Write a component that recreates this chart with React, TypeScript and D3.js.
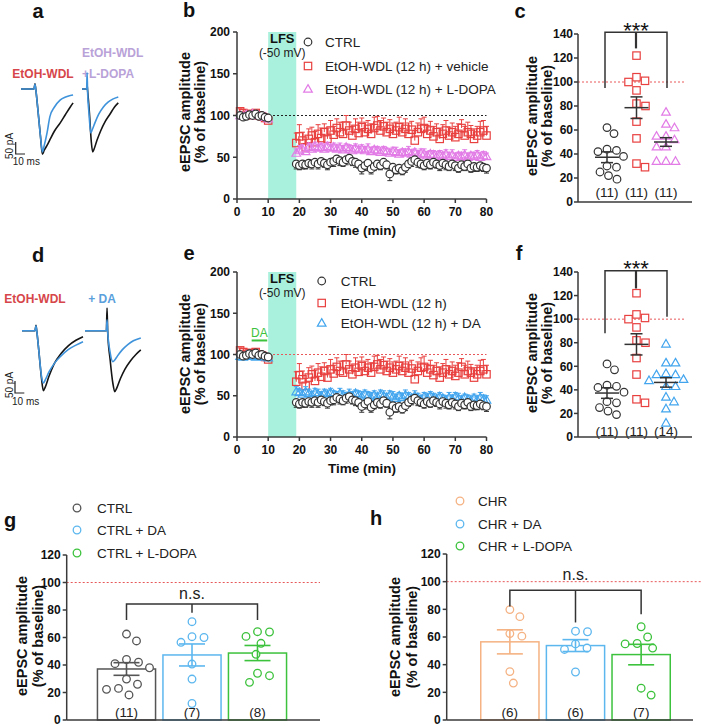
import React from 'react';
import * as d3 from 'd3';

const FONT = "'Liberation Sans', Arial, Helvetica, sans-serif";
const AXIS = '#3a3a3a';
const C_CTRL = '#333333';
const C_RED = '#e8403f';
const C_PINK = '#e27be6';
const C_BLUE = '#42a5ee';
const C_REF = '#e8585a';
const C_BAND = '#a9f1dc';
const C_ORANGE = '#f5b283';
const C_LBLUE = '#5db7ef';
const C_GREEN = '#3cc23c';
const C_TRACE_K = '#151515';
const C_TRACE_B = '#3f93db';

// ---------- time course data (b, e) ----------
const baseTimes = [1, 2, 3, 4, 5, 6, 7, 8, 9, 10];
const postTimes = d3.range(19, 81);
const yTicksTS = [0, 50, 100, 150, 200];
const xTicksTS = [0, 10, 20, 30, 40, 50, 60, 70, 80];
const lfsPeriod = [10, 19];
const daPeriod = [4.7, 9.7];

const ctrlBase = [100, 98, 99, 101, 100, 102, 99, 100, 98, 97];
const ctrlBaseErr = [2, 2, 3, 2, 2, 3, 2, 2, 3, 2];
const ctrlPost = [
  42, 40, 42, 41, 43, 42, 44, 42, 45, 43,
  41, 44, 45, 48, 46, 44, 47, 49, 45, 44,
  42, 37, 40, 43, 36, 39, 42, 40, 44, 41,
  30, 38, 35, 37, 34, 38, 42, 45, 47, 44,
  42, 40, 43, 41, 44, 42, 40, 43, 41, 39,
  42, 40, 37, 41, 39, 42, 37, 39, 38, 40,
  38, 37];
const ctrlPostErr = [
  6, 5, 6, 5, 5, 6, 5, 6, 5, 5,
  6, 5, 6, 5, 6, 5, 6, 5, 5, 6,
  5, 7, 6, 5, 6, 5, 6, 5, 6, 5,
  8, 6, 5, 6, 5, 6, 5, 6, 5, 6,
  5, 5, 6, 5, 6, 5, 6, 5, 6, 5,
  5, 6, 5, 6, 5, 6, 5, 6, 5, 6,
  5, 6];

const redBase = [105, 103, 100, 102, 101, 103, 100, 99, 97, 94];
const redBaseErr = [3, 4, 3, 4, 3, 3, 4, 3, 4, 3];
const redPost = [
  67, 75, 70, 62, 72, 76, 68, 78, 73, 80,
  72, 82, 77, 85, 80, 78, 88, 82, 76, 84,
  79, 86, 80, 84, 78, 85, 88, 82, 87, 80,
  84, 78, 82, 86, 80, 84, 78, 83, 70, 80,
  84, 85, 78, 82, 75, 80, 72, 78, 82, 76,
  80, 74, 78, 85, 76, 80, 78, 72, 76, 80,
  82, 76];
const redPostErr = [
  12, 14, 10, 9, 12, 10, 13, 11, 12, 10,
  13, 12, 10, 11, 12, 14, 12, 10, 11, 12,
  13, 11, 12, 10, 12, 13, 11, 12, 10, 12,
  11, 13, 10, 12, 11, 12, 13, 10, 12, 11,
  12, 13, 10, 11, 12, 10, 13, 11, 12, 10,
  11, 13, 12, 10, 11, 12, 10, 12, 11, 13,
  12, 11];

const pinkBase = [100, 99, 101, 100, 102, 101, 100, 99, 98, 96];
const pinkBaseErr = [2, 3, 2, 2, 3, 2, 2, 3, 2, 2];
const pinkPost = [
  55, 58, 60, 57, 62, 60, 63, 61, 62, 60,
  63, 61, 62, 60, 61, 59, 62, 60, 58, 61,
  59, 60, 58, 60, 57, 59, 58, 56, 58, 57,
  55, 57, 56, 54, 56, 55, 57, 54, 56, 53,
  55, 54, 52, 54, 53, 51, 53, 52, 54, 51,
  53, 50, 52, 51, 53, 50, 52, 51, 53, 50,
  52, 51];
const pinkPostErr = [
  5, 6, 5, 4, 5, 6, 5, 4, 5, 6,
  5, 4, 5, 5, 6, 5, 4, 5, 6, 5,
  4, 5, 5, 6, 5, 4, 5, 6, 5, 4,
  5, 5, 6, 5, 4, 5, 6, 5, 4, 5,
  5, 6, 5, 4, 5, 6, 5, 4, 5, 5,
  6, 5, 4, 5, 6, 5, 4, 5, 5, 6,
  5, 4];

const blueBase = [98, 97, 99, 100, 98, 97, 99, 98, 97, 96];
const blueBaseErr = [2, 2, 3, 2, 2, 3, 2, 2, 2, 3];
const bluePost = [
  55, 54, 52, 55, 53, 51, 54, 52, 50, 53,
  51, 54, 52, 50, 53, 51, 49, 52, 50, 53,
  51, 49, 52, 50, 48, 51, 49, 52, 50, 48,
  51, 49, 47, 50, 48, 51, 49, 47, 50, 48,
  46, 49, 47, 50, 48, 46, 49, 47, 45, 48,
  46, 49, 47, 45, 48, 46, 44, 47, 45, 48,
  46, 45];
const bluePostErr = [
  6, 5, 5, 6, 5, 4, 5, 6, 5, 5,
  6, 5, 4, 5, 6, 5, 5, 6, 5, 4,
  5, 6, 5, 5, 6, 5, 4, 5, 6, 5,
  5, 6, 5, 4, 5, 6, 5, 5, 6, 5,
  4, 5, 6, 5, 5, 6, 5, 4, 5, 6,
  5, 5, 6, 5, 4, 5, 6, 5, 5, 6,
  5, 5];

const legendB = ['CTRL', 'EtOH-WDL (12 h) + vehicle', 'EtOH-WDL (12 h) + L-DOPA'];
const legendE = ['CTRL', 'EtOH-WDL (12 h)', 'EtOH-WDL (12 h) + DA'];

// ---------- scatter data (c, f) ----------
const scatterCats = ['CTRL', 'EtOH-WDL', 'Drug'];
const yTicksCF = [0, 20, 40, 60, 80, 100, 120, 140];
const ptsCtrl = [62, 57, 44, 43, 42, 38, 30, 29, 25, 22, 19];
const ptsRed = [122, 104, 101, 100, 93, 82, 80, 67, 53, 32, 29];
const ptsPink = [75, 65, 62, 55, 55, 52, 46, 46, 34, 34, 34];
const ptsBlueF = [79, 63, 63, 53, 54, 53, 49, 48, 43, 43, 34, 30, 24, 12];
const meanCtrl = 37.3, semCtrl = 4.5;
const meanRed = 78.6, semRed = 9;
const meanPink = 50, semPink = 3.6;
const meanBlueF = 46.3, semBlueF = 4;
const nC = ['(11)', '(11)', '(11)'];
const nF = ['(11)', '(11)', '(14)'];
const bracketC = { top: 141.5, left: 95, center: 128, right: 95 };
const bracketF = { top: 141, left: 88, center: 126, right: 102 };

// ---------- bar data (g, h) ----------
const yTicksGH = [0, 20, 40, 60, 80, 100, 120];
const catsG = ['CTRL', 'CTRL + DA', 'CTRL + L-DOPA'];
const gCtrl = [62.5, 57.5, 44, 42, 41, 38, 29.8, 26, 23, 22.3, 18.2];
const gDA = [71.5, 60.6, 60, 56.5, 40.7, 29.8, 12];
const gLD = [64.2, 64, 60.8, 55.8, 47.8, 34, 32.2, 27.4];
const gMeans = [37.1, 47.3, 48.7];
const gSems = [4.6, 8, 5.5];
const gN = ['(11)', '(7)', '(8)'];
const catsH = ['CHR', 'CHR + DA', 'CHR + L-DOPA'];
const hCHR = [79.8, 74.7, 62.5, 60.6, 35, 26.7];
const hDA = [64.2, 63.8, 55, 52, 51, 34.7];
const hLD = [67.4, 60, 55.3, 55, 52, 23, 18];
const hMeans = [56.5, 53.8, 47.3];
const hSems = [8.7, 4.3, 7.4];
const hN = ['(6)', '(6)', '(7)'];
const bracketG = { top: 84.4, left: 72.7, center: 78, right: 72.7 };
const bracketH = { top: 93.8, left: 82, center: 70.5, right: 76.4 };

// ---------- traces (a, d): [ms, pA] ----------
const aBlackL = [[0, 0], [14, 0], [15, 22], [16, -5], [18, -80], [21, -200], [23, -272], [25, -255], [28, -235], [31, -212], [36, -175], [42, -142], [48, -105], [53, -75], [56, -58]];
const aBlueL = [[0, 0], [14, 0], [15, 20], [16, -5], [18, -80], [21, -200], [23, -262], [25, -235], [28, -183], [31, -116], [36, -75], [42, -46], [48, -33], [53, -27], [56, -25]];
const aBlackR = [[0, 0], [5, 0], [5.5, 15], [6, -5], [8, -100], [10, -220], [11.5, -262], [13, -250], [16, -215], [20, -175], [25, -135], [30, -105], [35, -75], [39, -58]];
const aBlueR = [[0, 0], [5, 0], [5.5, 68], [6, -10], [7.5, -100], [9.4, -183], [11, -170], [14, -140], [18, -105], [23, -75], [28, -55], [33, -42], [39, -33]];
const dBlackL = [[0, 0], [14, 0], [15, 22], [16, -5], [18, -80], [21, -200], [23, -250], [25, -235], [29, -190], [35, -135], [42, -95], [50, -62], [58, -40], [65.6, -25]];
const dBlueL = [[0, 0], [14, 0], [15, 20], [16, -5], [18, -80], [21, -190], [23, -218], [25, -205], [29, -172], [35, -135], [42, -105], [50, -78], [58, -60], [65.6, -46]];
const dBlackR = [[0, 0], [23, 0], [23.7, 94], [24.4, -5], [27, -120], [30, -220], [32, -254], [34, -240], [38, -200], [43, -160], [49, -125], [55, -98], [60, -80]];
const dBlueR = [[0, 0], [23, 0], [23.7, 45], [24.4, -5], [27, -90], [30, -129], [32, -122], [35, -105], [40, -80], [46, -58], [52, -42], [60, -30]];
const scaleBarPA = 50;
const scaleBarMS = 10;

const MS = 0.93;
const PA = 0.24;

// ---------- helpers ----------
function Marker({ shape, x, y, color, fill = 'none' }: any) {
  if (shape === 'circle') return <circle cx={x} cy={y} r={3.8} fill={fill} stroke={color} strokeWidth={1.2} />;
  if (shape === 'square') {
    const s = 3.7;
    return <rect x={x - s} y={y - s} width={2 * s} height={2 * s} fill={fill} stroke={color} strokeWidth={1.2} />;
  }
  const s = 4.4;
  return <path d={`M${x},${y - s}L${x + s * 0.98},${y + s * 0.72}L${x - s * 0.98},${y + s * 0.72}Z`} fill={fill} stroke={color} strokeWidth={1.2} />;
}

function swarm(values: number[], y: (v: number) => number, cx: number, d: number) {
  const pts = values.map((v) => ({ v, y: y(v), x: cx }));
  const order = [...pts].sort((a, b) => a.y - b.y);
  const placed: any[] = [];
  for (const p of order) {
    const near = placed.filter((q) => Math.abs(q.y - p.y) < d);
    let best = 0;
    outer: for (let k = 0; k < 80; k++) {
      const cands = k === 0 ? [0] : [k * 0.5, -k * 0.5];
      for (const off of cands) {
        if (near.every((q) => Math.hypot(q.x - (cx + off), q.y - p.y) >= d)) {
          best = off;
          break outer;
        }
      }
    }
    p.x = cx + best;
    placed.push(p);
  }
  return pts;
}

function YTitle({ x1, x2, cy }: any) {
  return (
    <g fontFamily={FONT} fontWeight="bold" fontSize={14.5} fill="#111">
      <text transform={`translate(${x1},${cy}) rotate(-90)`} textAnchor="middle" dy="0.35em">eEPSC amplitude</text>
      <text transform={`translate(${x2},${cy}) rotate(-90)`} textAnchor="middle" dy="0.35em">(% of baseline)</text>
    </g>
  );
}

function YAxis({ x, y, ticks, labelX }: any) {
  const [d0, d1] = y.domain();
  return (
    <g>
      <line x1={x} x2={x} y1={y(d0)} y2={y(d1)} stroke={AXIS} strokeWidth={1.5} />
      {ticks.map((t: number) => (
        <g key={t}>
          <line x1={x - 4} x2={x} y1={y(t)} y2={y(t)} stroke={AXIS} strokeWidth={1.5} />
          <text x={labelX} y={y(t)} dy="0.36em" textAnchor="end" fontFamily={FONT} fontWeight="bold" fontSize={12} fill="#111">{t}</text>
        </g>
      ))}
    </g>
  );
}

function Letter({ x, y, t }: any) {
  return <text x={x} y={y} textAnchor="middle" fontFamily={FONT} fontWeight="bold" fontSize={20} fill="#111">{t}</text>;
}

// ---------- time series panel ----------
function TimeSeries({ top, bottom, series, legendSeries, legend, lgX, lgTX, lgY, refColor, showDA }: any) {
  const x = d3.scaleLinear().domain([0, 80]).range([237, 486.5]);
  const y = d3.scaleLinear().domain([0, 200]).range([bottom, top]);
  const times = baseTimes.concat(postTimes);
  return (
    <g>
      <rect x={x(lfsPeriod[0])} y={y(200)} width={x(lfsPeriod[1]) - x(lfsPeriod[0])} height={y(0) - y(200)} fill={C_BAND} />
      <line x1={x(0)} x2={x(80)} y1={y(100)} y2={y(100)} stroke={refColor} strokeWidth={1} strokeDasharray="2,2" />
      {series.map((s: any, si: number) => {
        const vals = s.base.concat(s.post);
        const errs = s.baseErr.concat(s.postErr);
        const n = Math.min(times.length, vals.length, errs.length);
        return (
          <g key={si}>
            {d3.range(n).map((i) => {
              const cx = x(times[i]);
              const cy = y(vals[i]);
              const ey = y(vals[i] + s.dir * errs[i]);
              return (
                <g key={i}>
                  <line x1={cx} x2={cx} y1={cy} y2={ey} stroke={s.color} strokeWidth={1} />
                  <line x1={cx - 2.5} x2={cx + 2.5} y1={ey} y2={ey} stroke={s.color} strokeWidth={1} />
                </g>
              );
            })}
            {d3.range(n).map((i) => (
              <Marker key={'m' + i} shape={s.shape} x={x(times[i])} y={y(vals[i])} color={s.color} fill={s.fill} />
            ))}
          </g>
        );
      })}
      <YAxis x={237} y={y} ticks={yTicksTS} labelX={230} />
      <line x1={x(0)} x2={x(80)} y1={y(0)} y2={y(0)} stroke={AXIS} strokeWidth={1.5} />
      {xTicksTS.map((t) => (
        <g key={t}>
          <line x1={x(t)} x2={x(t)} y1={y(0)} y2={y(0) + 4} stroke={AXIS} strokeWidth={1.5} />
          <text x={x(t)} y={y(0) + 17} textAnchor="middle" fontFamily={FONT} fontWeight="bold" fontSize={12} fill="#111">{t}</text>
        </g>
      ))}
      <text x={362} y={y(0) + 36} textAnchor="middle" fontFamily={FONT} fontWeight="bold" fontSize={13.5} fill="#111">Time (min)</text>
      <text x={x(14.5)} y={y(200) + 11} textAnchor="middle" fontFamily={FONT} fontWeight="bold" fontSize={13} fill="#111">LFS</text>
      <text x={x(14.5)} y={y(200) + 25} textAnchor="middle" fontFamily={FONT} fontSize={12} fill="#222">(-50 mV)</text>
      {showDA && (
        <g>
          <line x1={x(daPeriod[0])} x2={x(daPeriod[1])} y1={y(117)} y2={y(117)} stroke={C_GREEN} strokeWidth={2} />
          <text x={x((daPeriod[0] + daPeriod[1]) / 2)} y={y(121)} textAnchor="middle" fontFamily={FONT} fontSize={12} fill={C_GREEN}>DA</text>
        </g>
      )}
      {legendSeries.map((s: any, i: number) => (
        <g key={'lg' + i}>
          <Marker shape={s.shape} x={lgX} y={lgY[i]} color={s.color} fill="none" />
          <text x={lgTX} y={lgY[i]} dy="0.36em" fontFamily={FONT} fontSize={13.5} fill="#222">{legend[i]}</text>
        </g>
      ))}
    </g>
  );
}

// ---------- scatter panel ----------
function Scatter({ top, bottom, groups, nLabels, nY, bracket, starY }: any) {
  const y = d3.scaleLinear().domain([0, 140]).range([bottom, top]);
  const x = d3.scalePoint().domain(scatterCats).range([607, 666]);
  const xl = 605, xr = 667, xc = 636;
  return (
    <g>
      <line x1={578} x2={685} y1={y(100)} y2={y(100)} stroke={C_REF} strokeWidth={1} strokeDasharray="2,2" />
      {groups.map((g: any, gi: number) => {
        const cx = x(scatterCats[gi]) as number;
        const pts = swarm(g.vals, y, cx, 9.2);
        return (
          <g key={gi}>
            {pts.map((p, i) => <Marker key={i} shape={g.shape} x={p.x} y={p.y} color={g.color} fill="white" />)}
            <line x1={cx - 12} x2={cx + 12} y1={y(g.mean)} y2={y(g.mean)} stroke="#333" strokeWidth={1.5} />
            <line x1={cx} x2={cx} y1={y(g.mean - g.sem)} y2={y(g.mean + g.sem)} stroke="#333" strokeWidth={1.5} />
            <line x1={cx - 6} x2={cx + 6} y1={y(g.mean - g.sem)} y2={y(g.mean - g.sem)} stroke="#333" strokeWidth={1.5} />
            <line x1={cx - 6} x2={cx + 6} y1={y(g.mean + g.sem)} y2={y(g.mean + g.sem)} stroke="#333" strokeWidth={1.5} />
            <text x={cx} y={nY} textAnchor="middle" fontFamily={FONT} fontSize={13.5} fill="#222">{nLabels[gi]}</text>
          </g>
        );
      })}
      <g stroke="#333" strokeWidth={1.5} fill="none">
        <path d={`M${xl},${y(bracket.left)}V${y(bracket.top)}H${xr}V${y(bracket.right)}`} />
        <line x1={xc} x2={xc} y1={y(bracket.top)} y2={y(bracket.center)} strokeWidth={2.2} />
      </g>
      <text x={xc} y={starY} textAnchor="middle" fontFamily={FONT} fontSize={22} fill="#111">***</text>
      <YAxis x={578} y={y} ticks={yTicksCF} labelX={573} />
      <line x1={578} x2={692} y1={y(0)} y2={y(0)} stroke={AXIS} strokeWidth={1.5} />
    </g>
  );
}

// ---------- bar panel ----------
function Bars({ axisX, x0, x1, axisEnd, refEnd, cats, groups, means, sems, colors, nLabels, bracket, nsY, top, legendPos }: any) {
  const y = d3.scaleLinear().domain([0, 120]).range([720, top]);
  const x = d3.scaleBand().domain(cats).range([x0, x1]).paddingInner(0.09).paddingOuter(0);
  const bw = x.bandwidth();
  const cxs = cats.map((c: string) => (x(c) as number) + bw / 2);
  return (
    <g>
      <line x1={axisX} x2={refEnd} y1={y(100)} y2={y(100)} stroke={C_REF} strokeWidth={1} strokeDasharray="2,2" />
      {cats.map((c: string, i: number) => (
        <rect key={c} x={(x(c) as number) + 0.75} y={y(means[i])} width={bw - 1.5} height={y(0) - y(means[i])} fill="white" stroke={colors[i]} strokeWidth={1.5} />
      ))}
      {groups.map((vals: number[], gi: number) => {
        const pts = swarm(vals, y, cxs[gi], 12);
        return pts.map((p, i) => <circle key={gi + '-' + i} cx={p.x} cy={p.y} r={3.8} fill="white" stroke={colors[gi]} strokeWidth={1.3} />);
      })}
      {cats.map((c: string, i: number) => {
        const cx = cxs[i];
        return (
          <g key={'e' + c} stroke={colors[i]} strokeWidth={1.6}>
            <line x1={cx} x2={cx} y1={y(means[i] - sems[i])} y2={y(means[i] + sems[i])} />
            <line x1={cx - 13} x2={cx + 13} y1={y(means[i] - sems[i])} y2={y(means[i] - sems[i])} />
            <line x1={cx - 13} x2={cx + 13} y1={y(means[i] + sems[i])} y2={y(means[i] + sems[i])} />
          </g>
        );
      })}
      {cats.map((c: string, i: number) => (
        <text key={'n' + c} x={cxs[i]} y={717} textAnchor="middle" fontFamily={FONT} fontSize={13.5} fill="#222">{nLabels[i]}</text>
      ))}
      <g stroke="#333" strokeWidth={1.5} fill="none">
        <path d={`M${cxs[0]},${y(bracket.left)}V${y(bracket.top)}H${cxs[2]}V${y(bracket.right)}`} />
        <line x1={cxs[1]} x2={cxs[1]} y1={y(bracket.top)} y2={y(bracket.center)} />
      </g>
      <text x={cxs[1]} y={nsY} textAnchor="middle" fontFamily={FONT} fontSize={16} fill="#222">n.s.</text>
      <YAxis x={axisX} y={y} ticks={yTicksGH} labelX={axisX - 6} />
      <line x1={axisX} x2={axisEnd} y1={y(0)} y2={y(0)} stroke={AXIS} strokeWidth={1.5} />
      {cats.map((c: string, i: number) => (
        <g key={'lg' + c}>
          <circle cx={legendPos.mx} cy={legendPos.ys[i]} r={3.8} fill="white" stroke={colors[i]} strokeWidth={1.3} />
          <text x={legendPos.tx} y={legendPos.ys[i]} dy="0.36em" fontFamily={FONT} fontSize={13.5} fill="#222">{c}</text>
        </g>
      ))}
    </g>
  );
}

// ---------- traces ----------
function Trace({ pts, ox, oy, color }: any) {
  const line = d3.line<number[]>().x((d) => ox + d[0] * MS).y((d) => oy - d[1] * PA).curve(d3.curveMonotoneX);
  return <path d={line(pts) || ''} fill="none" stroke={color} strokeWidth={1.6} strokeLinejoin="round" />;
}

function ScaleBar({ x, y, labelY }: any) {
  const h = scaleBarPA * PA;
  const w = scaleBarMS * MS;
  return (
    <g>
      <path d={`M${x},${y - h}V${y}H${x + w}`} fill="none" stroke="#222" strokeWidth={1.2} />
      <text transform={`translate(${x - 6},${y - h / 2 - 2}) rotate(-90)`} textAnchor="middle" fontFamily={FONT} fontSize={10} fill="#222" dy="0.35em">{scaleBarPA} pA</text>
      <text x={x - 3} y={labelY} fontFamily={FONT} fontSize={10} fill="#222">{scaleBarMS} ms</text>
    </g>
  );
}

export default function App() {
  const sCtrl = { shape: 'circle', color: C_CTRL, base: ctrlBase, baseErr: ctrlBaseErr, post: ctrlPost, postErr: ctrlPostErr, dir: -1, fill: 'white' };
  const sRed = { shape: 'square', color: C_RED, base: redBase, baseErr: redBaseErr, post: redPost, postErr: redPostErr, dir: 1, fill: 'none' };
  const sPink = { shape: 'triangle', color: C_PINK, base: pinkBase, baseErr: pinkBaseErr, post: pinkPost, postErr: pinkPostErr, dir: 1, fill: 'none' };
  const sBlue = { shape: 'triangle', color: C_BLUE, base: blueBase, baseErr: blueBaseErr, post: bluePost, postErr: bluePostErr, dir: 1, fill: 'none' };

  const groupsC = [
    { vals: ptsCtrl, shape: 'circle', color: C_CTRL, mean: meanCtrl, sem: semCtrl },
    { vals: ptsRed, shape: 'square', color: C_RED, mean: meanRed, sem: semRed },
    { vals: ptsPink, shape: 'triangle', color: C_PINK, mean: meanPink, sem: semPink },
  ];
  const groupsF = [
    { vals: ptsCtrl, shape: 'circle', color: C_CTRL, mean: meanCtrl, sem: semCtrl },
    { vals: ptsRed, shape: 'square', color: C_RED, mean: meanRed, sem: semRed },
    { vals: ptsBlueF, shape: 'triangle', color: C_BLUE, mean: meanBlueF, sem: semBlueF },
  ];

  return (
    <svg width={702} height={726} style={{ position: 'absolute', left: 0, top: 0, background: 'white' }}>
      <rect width={702} height={726} fill="white" />
      {/* panel a */}
      <Letter x={38} y={18} t="a" />
      <text x={43} y={78} textAnchor="middle" fontFamily={FONT} fontWeight="bold" fontSize={12} fill="#d6464a">EtOH-WDL</text>
      <text x={82} y={57} fontFamily={FONT} fontWeight="bold" fontSize={12} fill="#b9a2d8">EtOH-WDL</text>
      <text x={82} y={78} fontFamily={FONT} fontWeight="bold" fontSize={12} fill="#b9a2d8">+L-DOPA</text>
      <Trace pts={aBlackL} ox={21} oy={89} color={C_TRACE_K} />
      <Trace pts={aBlueL} ox={21} oy={89} color={C_TRACE_B} />
      <Trace pts={aBlackR} ox={82} oy={89} color={C_TRACE_K} />
      <Trace pts={aBlueR} ox={82} oy={89} color={C_TRACE_B} />
      <ScaleBar x={15.7} y={154} labelY={165} />

      {/* panel d */}
      <Letter x={38} y={262} t="d" />
      <text x={35} y={303} textAnchor="middle" fontFamily={FONT} fontWeight="bold" fontSize={12} fill="#d6464a">EtOH-WDL</text>
      <text x={102} y={303} textAnchor="middle" fontFamily={FONT} fontWeight="bold" fontSize={12} fill="#5aa0dc">+ DA</text>
      <Trace pts={dBlackL} ox={22} oy={330.7} color={C_TRACE_K} />
      <Trace pts={dBlueL} ox={22} oy={330.7} color={C_TRACE_B} />
      <Trace pts={dBlackR} ox={85} oy={330.7} color={C_TRACE_K} />
      <Trace pts={dBlueR} ox={85} oy={330.7} color={C_TRACE_B} />
      <ScaleBar x={15} y={393} labelY={405} />

      {/* panel b */}
      <Letter x={189} y={17} t="b" />
      <YTitle x1={185} x2={200} cy={112} />
      <TimeSeries top={32} bottom={199} series={[sRed, sPink, sCtrl]} legendSeries={[sCtrl, sRed, sPink]} legend={legendB} lgX={308} lgTX={325} lgY={[42, 66, 89]} refColor="#222" showDA={false} />

      {/* panel e */}
      <Letter x={189} y={260} t="e" />
      <YTitle x1={185} x2={200} cy={354} />
      <TimeSeries top={272} bottom={437} series={[sRed, sBlue, sCtrl]} legendSeries={[sCtrl, sRed, sBlue]} legend={legendE} lgX={321.7} lgTX={340.7} lgY={[281, 303, 323]} refColor={C_REF} showDA={true} />

      {/* panel c */}
      <Letter x={520} y={18} t="c" />
      <YTitle x1={531.7} x2={546.7} cy={116} />
      <Scatter top={34} bottom={202} groups={groupsC} nLabels={nC} nY={197} bracket={bracketC} starY={37.5} />

      {/* panel f */}
      <Letter x={519} y={260} t="f" />
      <YTitle x1={531.7} x2={546.7} cy={353} />
      <Scatter top={272} bottom={437} groups={groupsF} nLabels={nF} nY={436} bracket={bracketF} starY={276} />

      {/* panel g */}
      <Letter x={10} y={527} t="g" />
      <YTitle x1={21.7} x2={38} cy={636} />
      <Bars axisX={66.7} x0={96.7} x1={287.3} axisEnd={320} refEnd={320} top={555} cats={catsG} groups={[gCtrl, gDA, gLD]} means={gMeans} sems={gSems} colors={['#555555', C_LBLUE, C_GREEN]} nLabels={gN} bracket={bracketG} nsY={599} legendPos={{ mx: 77, tx: 97, ys: [508, 530, 553] }} />

      {/* panel h */}
      <Letter x={376} y={525} t="h" />
      <YTitle x1={395} x2={411.7} cy={637} />
      <Bars axisX={446.7} x0={480} x1={671} axisEnd={693} refEnd={701} top={554} cats={catsH} groups={[hCHR, hDA, hLD]} means={hMeans} sems={hSems} colors={[C_ORANGE, C_LBLUE, C_GREEN]} nLabels={hN} bracket={bracketH} nsY={580} legendPos={{ mx: 460, tx: 478, ys: [501, 524, 546] }} />
    </svg>
  );
}
